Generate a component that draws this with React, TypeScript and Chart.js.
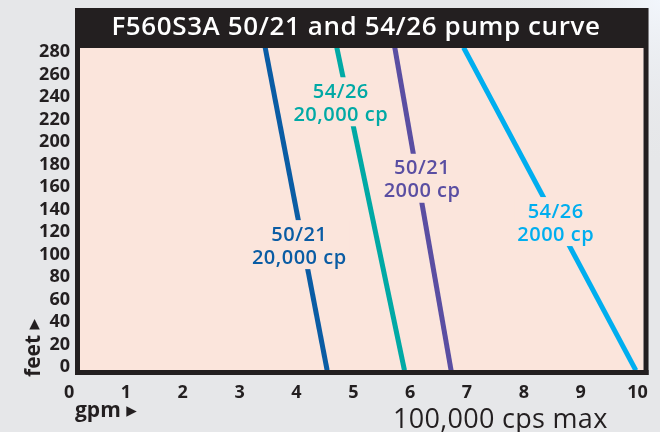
import React, { useEffect, useRef } from 'react';
import { Chart, registerables } from 'chart.js';

Chart.register(...registerables);

// ---- data ----
const feetLevels = [-3, 284];
const gpm5021_20000 = [4.54, 3.45];
const gpm5426_20000 = [5.9, 4.71];
const gpm5021_2000 = [6.72, 5.73];
const gpm5426_2000 = [9.97, 6.94];
const xTickValues = [0, 1, 2, 3, 4, 5, 6, 7, 8, 9, 10];
const yTickValues = [0, 20, 40, 60, 80, 100, 120, 140, 160, 180, 200, 220, 240, 260, 280];
const seriesLabels = [
  ['50/21', '20,000 cp'],
  ['54/26', '20,000 cp'],
  ['50/21', '2000 cp'],
  ['54/26', '2000 cp'],
];
const titleText = 'F560S3A 50/21 and 54/26 pump curve';
const xAxisTitle = 'gpm \u25B8';
const yAxisTitle = 'feet \u25B8';
const noteText = '100,000 cps max';

// ---- styles / placement ----
const COLORS = ['#0a5ca4', '#00a9a5', '#5a4ea2', '#00aeef'];
const labelAnchors = [
  { x: 4.05, y: 107 },
  { x: 4.78, y: 234 },
  { x: 6.21, y: 166 },
  { x: 8.56, y: 127.5 },
];
const PINK = '#fbe5dc';
const FRAME = '#231f20';
const BG = '#e6e7e9';
const FONT = '"Open Sans", "DejaVu Sans", sans-serif';

const toPoints = (xs: number[]) => xs.map((x, i) => ({ x, y: feetLevels[i] }));

const framePlugin = {
  id: 'framePlugin',
  beforeDraw(chart: any) {
    const { ctx, chartArea: a, width, height } = chart;
    ctx.save();
    ctx.fillStyle = BG;
    ctx.fillRect(0, 0, width, height);
    const rg = ctx.createRadialGradient(width, 0, 0, width, 0, 170);
    rg.addColorStop(0, 'rgba(242,246,252,1)');
    rg.addColorStop(1, 'rgba(230,231,233,0)');
    ctx.fillStyle = rg;
    ctx.fillRect(0, 0, width, height);
    ctx.fillStyle = PINK;
    ctx.fillRect(a.left, a.top, a.right - a.left, a.bottom - a.top);
    ctx.restore();
  },
  afterDatasetsDraw(chart: any) {
    const { ctx, chartArea: a } = chart;
    const xs = chart.scales.x;
    const ys = chart.scales.y;
    ctx.save();
    // series labels with pink boxes
    ctx.font = `600 20px ${FONT}`;
    (ctx as any).letterSpacing = '0.5px';
    ctx.textAlign = 'center';
    ctx.textBaseline = 'middle';
    seriesLabels.forEach((lines, i) => {
      const cx = xs.getPixelForValue(labelAnchors[i].x);
      const cy = ys.getPixelForValue(labelAnchors[i].y);
      const w = Math.max(...lines.map((l) => ctx.measureText(l).width)) + 6;
      ctx.fillStyle = PINK;
      ctx.fillRect(cx - w / 2, cy - 11.5 - 15, w, 23 + 26);
      ctx.fillStyle = COLORS[i];
      ctx.fillText(lines[0], cx, cy - 11.5);
      ctx.fillText(lines[1], cx, cy + 11.5);
    });
    // frame
    ctx.fillStyle = FRAME;
    ctx.fillRect(a.left - 5, a.top - 40, a.right - a.left + 10, 40);
    ctx.fillRect(a.left - 5, a.top, 5, a.bottom - a.top + 5);
    ctx.fillRect(a.right, a.top, 5, a.bottom - a.top + 5);
    ctx.fillRect(a.left - 5, a.bottom, a.right - a.left + 10, 5);
    // title
    ctx.fillStyle = '#ffffff';
    ctx.font = `600 26px ${FONT}`;
    (ctx as any).letterSpacing = '0.6px';
    ctx.textAlign = 'center';
    ctx.textBaseline = 'middle';
    ctx.fillText(titleText, 356, a.top - 20);
    // axis titles
    ctx.fillStyle = FRAME;
    ctx.font = `700 21px ${FONT}`;
    (ctx as any).letterSpacing = '0px';
    ctx.textAlign = 'left';
    ctx.textBaseline = 'alphabetic';
    ctx.fillText(xAxisTitle, 75, 417);
    ctx.save();
    ctx.translate(40, 377);
    ctx.rotate(-Math.PI / 2);
    ctx.fillText(yAxisTitle, 0, 0);
    ctx.restore();
    ctx.font = `400 27px ${FONT}`;
    (ctx as any).letterSpacing = '0.3px';
    ctx.fillText(noteText, 393, 428);
    ctx.restore();
  },
};

export default function App() {
  const ref = useRef<HTMLCanvasElement | null>(null);
  useEffect(() => {
    document.body.style.margin = '0';
    if (!ref.current) return;
    const chart = new Chart(ref.current, {
      type: 'line',
      data: {
        datasets: [gpm5021_20000, gpm5426_20000, gpm5021_2000, gpm5426_2000].map((s, i) => ({
          label: seriesLabels[i].join(' '),
          data: toPoints(s),
          borderColor: COLORS[i],
          backgroundColor: COLORS[i],
          borderWidth: 5,
          pointRadius: 0,
          tension: 0,
          fill: false,
        })),
      },
      options: {
        animation: false,
        responsive: false,
        maintainAspectRatio: false,
        layout: { padding: { top: 48, right: 14, left: 0, bottom: 0 } },
        plugins: { legend: { display: false }, title: { display: false }, tooltip: { enabled: false } },
        scales: {
          x: {
            type: 'linear',
            min: 0.193,
            max: 10.105,
            afterBuildTicks: (scale: any) => {
              scale.ticks = xTickValues.map((v) => ({ value: v }));
            },
            afterFit: (scale: any) => {
              scale.height = 62;
            },
            grid: { display: false, drawTicks: false },
            border: { display: false },
            ticks: {
              autoSkip: false,
              maxRotation: 0,
              padding: 12,
              color: FRAME,
              font: { family: FONT, size: 18, weight: 'bold' },
            },
          },
          y: {
            type: 'linear',
            min: -2.7,
            max: 283.6,
            afterBuildTicks: (scale: any) => {
              scale.ticks = yTickValues.map((v) => ({ value: v }));
            },
            afterFit: (scale: any) => {
              scale.width = 80;
            },
            grid: { display: false, drawTicks: false },
            border: { display: false },
            ticks: {
              autoSkip: false,
              padding: 10,
              color: FRAME,
              font: { family: FONT, size: 18, weight: 'bold' },
            },
          },
        },
      },
      plugins: [framePlugin],
    } as any);
    return () => chart.destroy();
  }, []);
  return (
    <div style={{ width: 660, height: 432 }}>
      <canvas ref={ref} width={660} height={432} style={{ display: 'block' }} />
    </div>
  );
}
